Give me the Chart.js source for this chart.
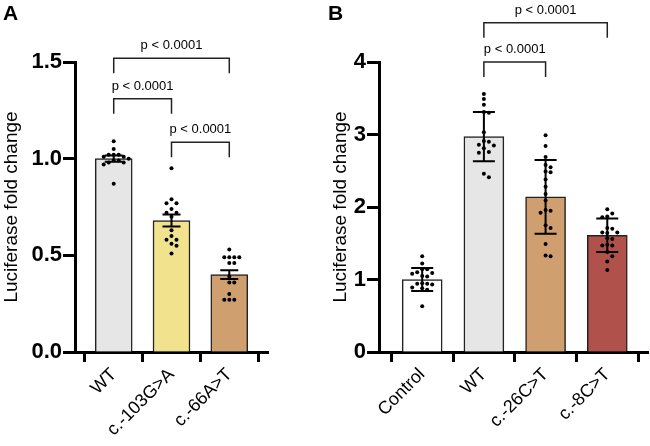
<!DOCTYPE html>
<html>
<head>
<meta charset="utf-8">
<script src="https://cdn.jsdelivr.net/npm/chart.js@4.4.1/dist/chart.umd.min.js"></script>
<style>
    body { margin: 0; background: #fff; width: 650px; height: 446px; overflow: hidden; position: relative; }
    canvas { position: absolute; top: 0; }
    #chartA { left: 0; }
    #chartB { left: 325px; }
</style>
</head>
<body>
<canvas id="chartA" width="325" height="446"></canvas>
<canvas id="chartB" width="325" height="446"></canvas>
<script>
const FONT = "'Liberation Sans', Arial, sans-serif";
const P_TEXT = 'p < 0.0001';

// Panel A - mean +/- SEM
const labelsA = ['WT', 'c.-103G>A', 'c.-66A>T'];
const meansA = [1.0, 0.68, 0.40];
const semA = [0.016, 0.031, 0.023];
const colorsA = ['#e6e6e6', '#f1e38d', '#cf9f70'];
const dotsA_WT = [1.09, 1.05, 1.02, 1.02, 1.02, 1.01, 1.01, 1.00, 0.99, 0.99, 0.98, 0.98, 0.97, 0.87];
const dotsA_103 = [0.95, 0.79, 0.77, 0.77, 0.74, 0.72, 0.72, 0.70, 0.63, 0.60, 0.58, 0.58, 0.56, 0.55, 0.51];
const dotsA_66 = [0.53, 0.49, 0.49, 0.49, 0.49, 0.46, 0.46, 0.39, 0.36, 0.36, 0.30, 0.27, 0.27, 0.27];
// [from, to, height]
const bracketsA = [[0, 2, 1.52], [0, 1, 1.31], [1, 2, 1.085]];

// Panel B - mean +/- SD
const labelsB = ['Control', 'WT', 'c.-26C>T', 'c.-8C>T'];
const meansB = [1.0, 2.97, 2.14, 1.61];
const sdB = [0.16, 0.34, 0.51, 0.23];
const colorsB = ['#ffffff', '#e6e6e6', '#cf9f70', '#b0524b'];
const dotsB_Ctrl = [1.32, 1.22, 1.14, 1.14, 1.10, 1.09, 1.08, 1.05, 1.04, 0.95, 0.94, 0.94, 0.93, 0.89, 0.88, 0.86, 0.63];
const dotsB_WT = [3.56, 3.49, 3.41, 3.31, 3.30, 3.03, 2.91, 2.90, 2.86, 2.85, 2.81, 2.76, 2.75, 2.46, 2.41];
const dotsB_26 = [2.99, 2.84, 2.69, 2.58, 2.55, 2.49, 2.48, 2.38, 2.28, 2.18, 2.09, 1.96, 1.95, 1.92, 1.75, 1.71, 1.49, 1.33, 1.32];
const dotsB_8 = [1.97, 1.91, 1.87, 1.86, 1.71, 1.70, 1.65, 1.65, 1.64, 1.57, 1.56, 1.48, 1.47, 1.47, 1.38, 1.32, 1.25, 1.13];
const bracketsB = [[1, 3, 4.54], [1, 2, 4.0]];

// simple beeswarm: horizontal offsets (px) so dots don't overlap
function swarm(ys, step, minDist) {
    const placed = [];
    return ys.map(y => {
        let off = 0;
        for (let k = 0; k < 40; k++) {
            off = k === 0 ? 0 : (k % 2 ? 1 : -1) * Math.ceil(k / 2) * step;
            if (placed.every(p => Math.hypot(p.x - off, p.y - y) >= minDist)) break;
        }
        placed.push({ x: off, y });
        return off;
    });
}

function makeOverlay(p) {
    return {
        id: 'overlay',
        afterDatasetsDraw(chart) {
            const ctx = chart.ctx;
            const xs = chart.scales.x, ys = chart.scales.y;
            ctx.save();

            // individual points
            ctx.fillStyle = '#000';
            p.dots.forEach((vals, i) => {
                const cx = xs.getPixelForValue(i);
                const py = vals.map(v => ys.getPixelForValue(v));
                const offs = swarm(py, 5, 4.6);
                py.forEach((y, j) => {
                    ctx.beginPath();
                    ctx.arc(cx + offs[j], y, 2, 0, Math.PI * 2);
                    ctx.fill();
                });
            });

            // error bars
            ctx.strokeStyle = '#000';
            ctx.lineWidth = 2;
            p.means.forEach((m, i) => {
                const cx = xs.getPixelForValue(i);
                const hi = ys.getPixelForValue(m + p.err[i]);
                const lo = ys.getPixelForValue(m - p.err[i]);
                ctx.beginPath();
                ctx.moveTo(cx, hi); ctx.lineTo(cx, lo);
                ctx.moveTo(cx - p.cap, hi); ctx.lineTo(cx + p.cap, hi);
                ctx.moveTo(cx - p.cap, lo); ctx.lineTo(cx + p.cap, lo);
                ctx.stroke();
            });

            // significance brackets
            ctx.strokeStyle = '#222';
            ctx.lineWidth = 1.5;
            ctx.font = '13px ' + FONT;
            ctx.textAlign = 'center';
            ctx.textBaseline = 'alphabetic';
            p.brackets.forEach(([a, b, h]) => {
                const x1 = xs.getPixelForValue(a), x2 = xs.getPixelForValue(b);
                const y = ys.getPixelForValue(h);
                ctx.beginPath();
                ctx.moveTo(x1, y + 15); ctx.lineTo(x1, y);
                ctx.lineTo(x2, y); ctx.lineTo(x2, y + 15);
                ctx.stroke();
                ctx.fillStyle = '#000';
                ctx.fillText(P_TEXT, (x1 + x2) / 2, y - 9);
            });

            // panel letter
            ctx.font = 'bold 21px ' + FONT;
            ctx.textAlign = 'left';
            ctx.fillText(p.letter, 3, 20);
            ctx.restore();
        }
    };
}

function buildPanel(id, p) {
    new Chart(document.getElementById(id), {
        type: 'bar',
        data: {
            datasets: [{
                data: p.means.map((m, i) => ({ x: i, y: m })),
                backgroundColor: p.colors,
                borderColor: '#222',
                borderWidth: 1.5,
                barThickness: p.barWidth
            }]
        },
        options: {
            responsive: false,
            animation: false,
            devicePixelRatio: 1,
            layout: { padding: { top: 62, right: p.padRight, bottom: 0, left: 0 } },
            plugins: { legend: { display: false }, tooltip: { enabled: false } },
            scales: {
                x: {
                    type: 'linear',
                    offset: false,
                    min: p.xMin,
                    max: p.xMax,
                    afterBuildTicks: s => { s.ticks = p.labels.map((_, i) => ({ value: i })); },
                    afterFit: s => { s.height = 94; },
                    grid: { drawOnChartArea: false, tickLength: 10, tickWidth: 3, tickColor: '#000' },
                    border: { display: true, width: 3, color: '#000' },
                    ticks: {
                        autoSkip: false,
                        minRotation: 45,
                        maxRotation: 45,
                        padding: 2,
                        color: '#000',
                        font: { family: FONT, size: 18 },
                        callback: v => p.labels[v]
                    }
                },
                y: {
                    min: 0,
                    max: p.yMax,
                    afterFit: s => { s.width = p.yWidth; },
                    grid: { drawOnChartArea: false, tickLength: 12, tickWidth: 3, tickColor: '#000' },
                    border: { display: true, width: 3, color: '#000' },
                    ticks: {
                        stepSize: p.yStep,
                        padding: 1,
                        color: '#000',
                        font: { family: FONT, size: 22, weight: 'bold' },
                        callback: v => v.toFixed(p.decimals)
                    },
                    title: {
                        display: true,
                        text: 'Luciferase fold change',
                        color: '#000',
                        font: { family: FONT, size: 19 },
                        padding: { top: p.titlePad, bottom: 0 }
                    }
                }
            }
        },
        plugins: [makeOverlay(p)]
    });
}

buildPanel('chartA', {
    letter: 'A',
    labels: labelsA, means: meansA, err: semA, colors: colorsA,
    dots: [dotsA_WT, dotsA_103, dotsA_66],
    brackets: bracketsA,
    xMin: -0.67, xMax: 2.67, yMax: 1.5, yStep: 0.5, decimals: 1,
    barWidth: 37, cap: 9, yWidth: 75, padRight: 57, titlePad: 0
});

buildPanel('chartB', {
    letter: 'B',
    labels: labelsB, means: meansB, err: sdB, colors: colorsB,
    dots: [dotsB_Ctrl, dotsB_WT, dotsB_26, dotsB_8],
    brackets: bracketsB,
    xMin: -0.7, xMax: 3.66, yMax: 4, yStep: 1, decimals: 0,
    barWidth: 40, cap: 11, yWidth: 54, padRight: 2, titlePad: 4
});
</script>
</body>
</html>
